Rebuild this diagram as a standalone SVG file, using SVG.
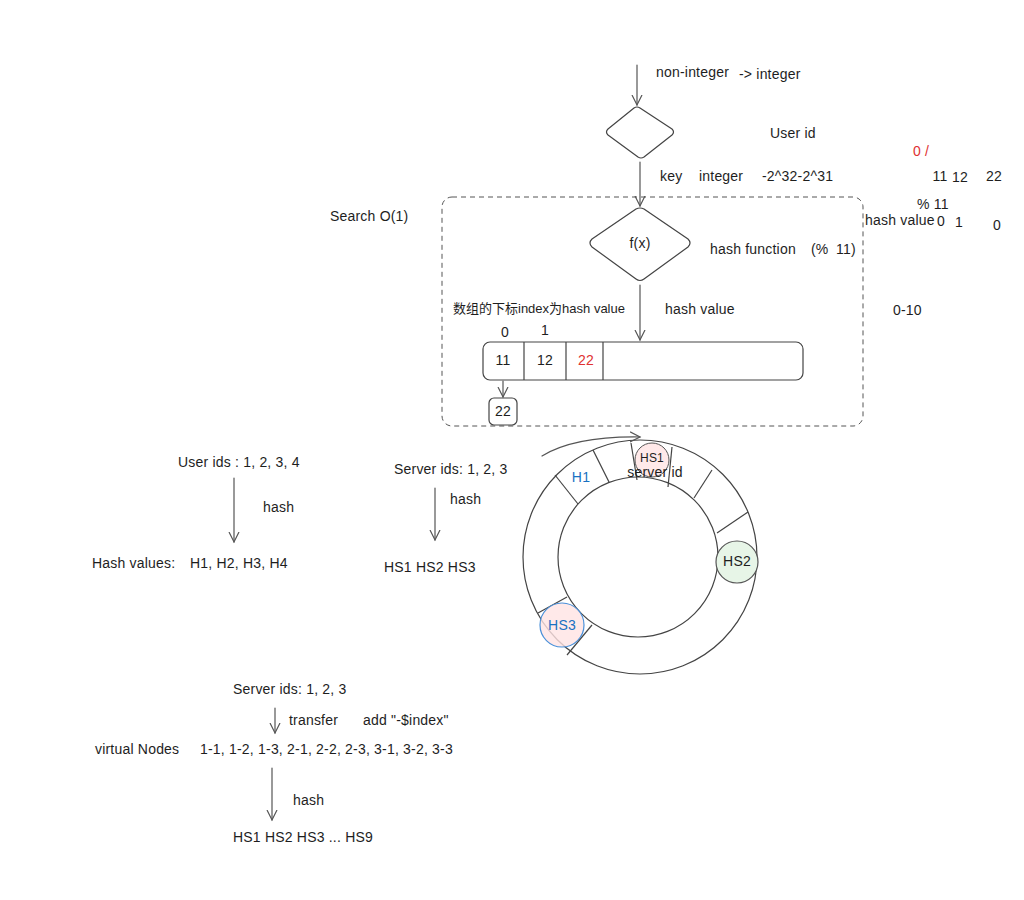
<svg xmlns="http://www.w3.org/2000/svg" width="1024" height="900" viewBox="0 0 1024 900">
<style>
text{font-family:"Liberation Sans","DejaVu Sans",sans-serif;font-size:14px;letter-spacing:0.2px;fill:#1e1e1e}
.red{fill:#e03131}
.blue{fill:#1971c2}
.cjk{font-family:"Liberation Sans","Noto Sans CJK SC",sans-serif;font-size:13px;letter-spacing:0}
.ln{fill:none;stroke:#555;stroke-width:1.2;stroke-linecap:round}
.shape{fill:none;stroke:#444;stroke-width:1.2;stroke-linejoin:round}
.c{text-anchor:middle}
</style>
<defs>
<marker id="ah" markerWidth="12" markerHeight="12" refX="10" refY="6" orient="auto" markerUnits="userSpaceOnUse">
<path d="M0,1 L10,6 L0,11" fill="none" stroke="#555" stroke-width="1.2"/>
</marker>
</defs>
<rect width="1024" height="900" fill="#fff"/>

<g id="search-box">
<rect x="442" y="197" width="421" height="229" rx="10" fill="none" stroke="#555" stroke-width="1" stroke-dasharray="5 4"/>
<text x="330" y="221">Search O(1)</text>
</g>

<g id="top-diamond">
<path class="shape" d="M634,108 Q637,106 640,108 L672,129 Q675,132 672,135 L644,157 Q641,159 638,157 L608,135 Q605,132 608,129 Z"/>
</g>

<g id="fx-diamond">
<path class="shape" d="M636,209 Q640,207 644,209 L688,239 Q692,243 688,247 L644,279 Q640,282 636,279 L592,247 Q588,243 592,239 Z"/>
<text x="640" y="248" class="c">f(x)</text>
</g>

<g id="array">
<rect x="483" y="342" width="320" height="38" rx="7" class="shape"/>
<line x1="524" y1="342" x2="524" y2="380" class="shape"/>
<line x1="566" y1="342" x2="566" y2="380" class="shape"/>
<line x1="603" y1="342" x2="603" y2="380" class="shape"/>
<text x="503" y="365" class="c">11</text>
<text x="545" y="365" class="c">12</text>
<text x="586" y="365" class="c red">22</text>
<text x="505" y="337" class="c">0</text>
<text x="545" y="335" class="c">1</text>
</g>

<g id="chain-node">
<rect x="489" y="398" width="28" height="27" rx="5" class="shape"/>
<text x="503" y="416" class="c">22</text>
</g>

<g id="ring">
<circle cx="640" cy="557" r="117" class="shape"/>
<circle cx="638" cy="557" r="80" class="shape"/>
<line x1="593" y1="450" x2="609" y2="482" class="shape"/>
<line x1="555" y1="475" x2="578" y2="504" class="shape"/>
<line x1="631" y1="443" x2="637" y2="480" class="shape"/>
<line x1="672" y1="447" x2="668" y2="487" class="shape"/>
<line x1="712" y1="470" x2="694" y2="498" class="shape"/>
<line x1="748" y1="512" x2="717" y2="533" class="shape"/>
<line x1="538" y1="613" x2="567" y2="597" class="shape"/>
<line x1="592" y1="625" x2="567" y2="655" class="shape"/>
<text x="581" y="482" class="c blue">H1</text>
</g>

<g id="hs1">
<circle cx="652" cy="460" r="17" fill="#ffe3e3" fill-opacity="0.8" stroke="#555" stroke-width="1"/>
<text x="652" y="462" class="c" style="font-size:12px">HS1</text>
<text x="655" y="477" class="c">server id</text>
</g>
<g id="hs2">
<circle cx="737" cy="562" r="21" fill="#e7f5e7" stroke="#555" stroke-width="1.2"/>
<text x="737" y="566" class="c">HS2</text>
</g>
<g id="hs3">
<circle cx="562" cy="625" r="22" fill="#ffe3e3" fill-opacity="0.8" stroke="#4a90d9" stroke-width="1.2"/>
<text x="562" y="630" class="c blue">HS3</text>
</g>

<g id="connectors">
<line x1="637" y1="65" x2="637" y2="105" class="ln" marker-end="url(#ah)"/>
<line x1="640" y1="162" x2="640" y2="206" class="ln" marker-end="url(#ah)"/>
<line x1="640" y1="285" x2="640" y2="340" class="ln" marker-end="url(#ah)"/>
<line x1="503" y1="381" x2="503" y2="397" class="ln" marker-end="url(#ah)"/>
<path d="M542,456 Q575,436 640,437" class="ln" marker-end="url(#ah)"/>
<line x1="234" y1="478" x2="234" y2="542" class="ln" marker-end="url(#ah)"/>
<line x1="435" y1="488" x2="435" y2="540" class="ln" marker-end="url(#ah)"/>
<line x1="275" y1="708" x2="275" y2="733" class="ln" marker-end="url(#ah)"/>
<line x1="272" y1="768" x2="272" y2="820" class="ln" marker-end="url(#ah)"/>
</g>

<g id="labels">
<text x="656" y="77">non-integer</text>
<text x="739" y="79">-&gt; integer</text>
<text x="770" y="138">User id</text>
<text x="913" y="156" class="red">0 /</text>
<text x="660" y="181">key</text>
<text x="699" y="181">integer</text>
<text x="762" y="181">-2^32-2^31</text>
<text x="940" y="181" class="c">11</text>
<text x="960" y="182" class="c">12</text>
<text x="994" y="181" class="c">22</text>
<text x="917" y="209">% 11</text>
<text x="865" y="225">hash value</text>
<text x="941" y="226" class="c">0</text>
<text x="959" y="227" class="c">1</text>
<text x="997" y="230" class="c">0</text>
<text x="710" y="254">hash function</text>
<text x="811" y="254">(%</text>
<text x="836" y="254">11)</text>
<text x="453" y="313" class="cjk">数组的下标index为hash value</text>
<text x="665" y="314">hash value</text>
<text x="893" y="315">0-10</text>

<text x="178" y="467">User ids : 1, 2, 3, 4</text>
<text x="263" y="512">hash</text>
<text x="92" y="568">Hash values:</text>
<text x="190" y="568">H1, H2, H3, H4</text>
<text x="394" y="474">Server ids: 1, 2, 3</text>
<text x="450" y="504">hash</text>
<text x="384" y="572">HS1 HS2 HS3</text>

<text x="233" y="694">Server ids: 1, 2, 3</text>
<text x="289" y="725">transfer</text>
<text x="363" y="725">add "-$index"</text>
<text x="95" y="754">virtual Nodes</text>
<text x="200" y="754">1-1, 1-2, 1-3, 2-1, 2-2, 2-3, 3-1, 3-2, 3-3</text>
<text x="293" y="805">hash</text>
<text x="233" y="842">HS1 HS2 HS3 ... HS9</text>
</g>
</svg>
